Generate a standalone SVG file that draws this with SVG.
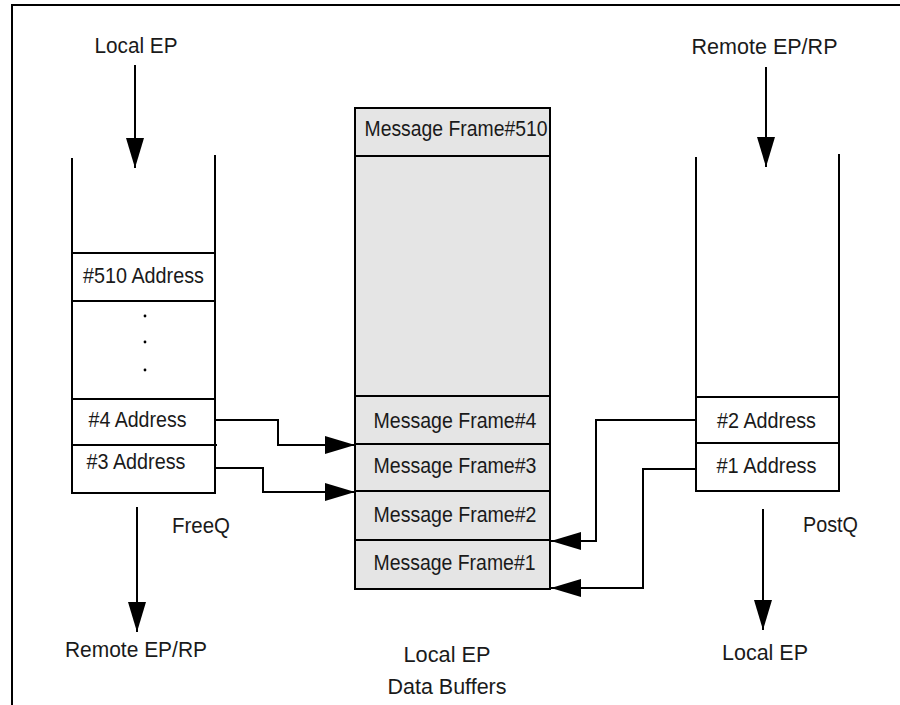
<svg xmlns="http://www.w3.org/2000/svg" width="900" height="705" viewBox="0 0 900 705">
<style>
.ln{fill:none;stroke:#000;stroke-width:2}
.fr{fill:#e5e5e5;stroke:#000;stroke-width:2}
.t{font-family:"Liberation Sans",Arial,sans-serif;font-size:22px;fill:#1a1a1a}
.m{text-anchor:middle}
</style>
<defs>
<marker id="ah" markerUnits="userSpaceOnUse" markerWidth="30" markerHeight="18" refX="30" refY="9" orient="auto" viewBox="0 0 30 18">
<path d="M0,0 L30,9 L0,18 z" fill="#000"/>
</marker>
</defs>
<rect width="900" height="705" fill="#fff"/>
<path class="ln" d="M12,705 V5 H900"/>

<g id="freeq">
<path class="ln" d="M72,158 V493 H215 V155"/>
<path class="ln" d="M72,253 H215 M72,301 H215 M72,399 H215 M72,445 H217"/>
<text class="t m" x="143.5" y="283" textLength="121" lengthAdjust="spacingAndGlyphs">#510 Address</text>
<circle cx="145" cy="316" r="1.4"/>
<circle cx="145" cy="342" r="1.4"/>
<circle cx="145" cy="370" r="1.4"/>
<text class="t m" x="137.5" y="427" textLength="98" lengthAdjust="spacingAndGlyphs">#4 Address</text>
<text class="t m" x="136" y="469" textLength="99" lengthAdjust="spacingAndGlyphs">#3 Address</text>
<text class="t" x="172" y="533" textLength="58" lengthAdjust="spacingAndGlyphs">FreeQ</text>
</g>

<g id="buffers">
<rect class="fr" x="355" y="108" width="195" height="481"/>
<path class="ln" d="M355,156 H550 M355,396 H550 M355,444 H550 M355,491 H550 M356,540 H550"/>
<text class="t m" x="456" y="136" textLength="183" lengthAdjust="spacingAndGlyphs">Message Frame#510</text>
<text class="t m" x="455" y="428" textLength="163" lengthAdjust="spacingAndGlyphs">Message Frame#4</text>
<text class="t m" x="455" y="473" textLength="163" lengthAdjust="spacingAndGlyphs">Message Frame#3</text>
<text class="t m" x="455" y="521.5" textLength="163" lengthAdjust="spacingAndGlyphs">Message Frame#2</text>
<text class="t m" x="454.5" y="570" textLength="162" lengthAdjust="spacingAndGlyphs">Message Frame#1</text>
<text class="t m" x="447" y="662" textLength="87" lengthAdjust="spacingAndGlyphs">Local EP</text>
<text class="t m" x="447" y="694" textLength="119" lengthAdjust="spacingAndGlyphs">Data Buffers</text>
</g>

<g id="postq">
<path class="ln" d="M696,157 V491 H839 V154"/>
<path class="ln" d="M696,397 H839 M696,443 H839"/>
<text class="t m" x="766.5" y="428" textLength="99" lengthAdjust="spacingAndGlyphs">#2 Address</text>
<text class="t m" x="766.5" y="473" textLength="100" lengthAdjust="spacingAndGlyphs">#1 Address</text>
<text class="t" x="803" y="532" textLength="55" lengthAdjust="spacingAndGlyphs">PostQ</text>
</g>

<g id="labels">
<text class="t m" x="136" y="53" textLength="83" lengthAdjust="spacingAndGlyphs">Local EP</text>
<text class="t m" x="764.5" y="54" textLength="146" lengthAdjust="spacingAndGlyphs">Remote EP/RP</text>
<text class="t m" x="136" y="657" textLength="142" lengthAdjust="spacingAndGlyphs">Remote EP/RP</text>
<text class="t m" x="765" y="660" textLength="86" lengthAdjust="spacingAndGlyphs">Local EP</text>
</g>

<g id="connectors">
<path class="ln" marker-end="url(#ah)" d="M135,65 V168"/>
<path class="ln" marker-end="url(#ah)" d="M766,67 V167"/>
<path class="ln" marker-end="url(#ah)" d="M137,507 V632"/>
<path class="ln" marker-end="url(#ah)" d="M763,509 V630"/>
<path class="ln" marker-end="url(#ah)" d="M215,420 H278 V445 H355"/>
<path class="ln" marker-end="url(#ah)" d="M215,468 H263 V492 H355"/>
<path class="ln" marker-end="url(#ah)" d="M696,420 H596 V541 H551"/>
<path class="ln" marker-end="url(#ah)" d="M696,469 H643 V588 H551"/>
</g>
</svg>
